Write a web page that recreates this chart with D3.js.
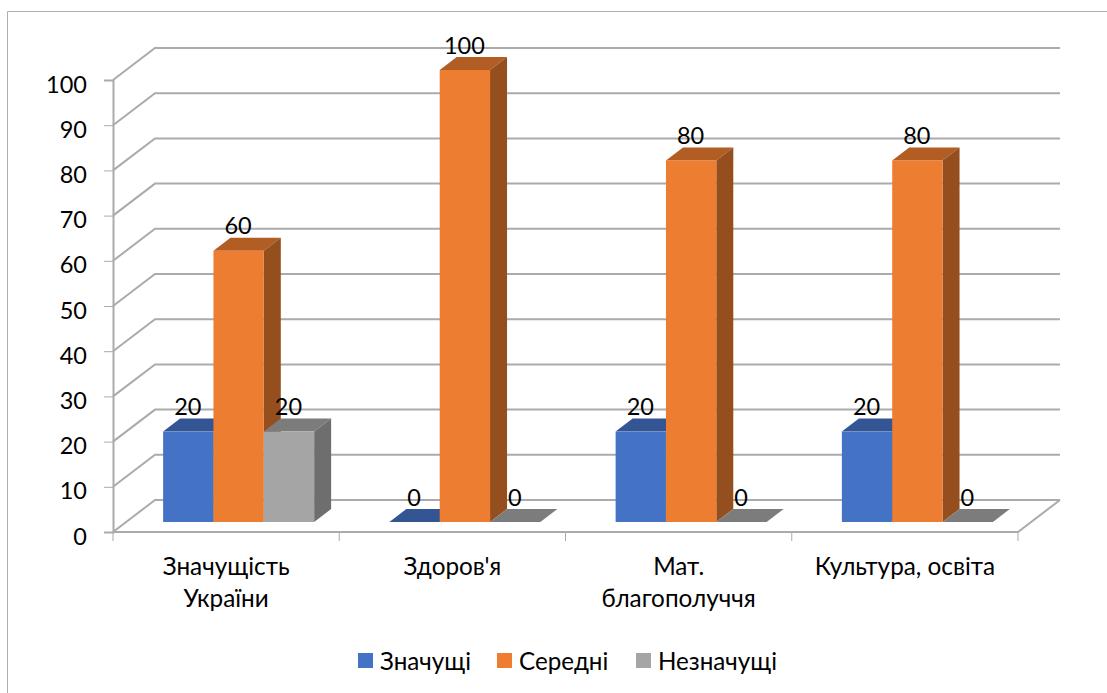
<!DOCTYPE html>
<html>
<head>
<meta charset="utf-8">
<script src="https://cdn.jsdelivr.net/npm/d3@7"></script>
<style>
  html, body { margin: 0; padding: 0; background: #fff; }
  text { font-family: Lato, "Open Sans", sans-serif; fill: #000; }
</style>
</head>
<body>
<div id="chart"></div>
<script>
const categories = [["Значущість", "України"], ["Здоров'я"], ["Мат.", "благополуччя"], ["Культура, освіта"]];
const seriesNames = ["Значущі", "Середні", "Незначущі"];
const significant = [20, 0, 20, 20];
const medium = [60, 100, 80, 80];
const insignificant = [20, 0, 0, 0];
const yTicks = [0, 10, 20, 30, 40, 50, 60, 70, 80, 90, 100];

const frontColors = ["#4472c4", "#ed7d31", "#a5a5a5"];
const topColors = ["#335593", "#b15d24", "#7c7c7c"];
const sideColors = ["#294477", "#954f1e", "#6e6e6e"];

const width = 1107, height = 693;
// oblique offsets: walls of the box and the bars themselves
const wallDx = 42, wallDy = -32, barDx = 17, barDy = -13;

const svg = d3.select("#chart").append("svg")
  .attr("width", width)
  .attr("height", height)
  .style("display", "block");

// chart frame
svg.append("path")
  .attr("d", "M7.5,693V11.5H1107")
  .attr("fill", "none")
  .attr("stroke", "#b0b0b0")
  .attr("stroke-width", 1);

const x = d3.scaleBand().domain(d3.range(categories.length)).range([113, 1018]);
const y = d3.scaleLinear().domain([0, 100]).range([532, 80]);
const inner = d3.scaleBand().domain(d3.range(seriesNames.length)).range([0, 151]);

const gridColor = "#ababab";

// gridlines on back wall and side wall
const grid = svg.append("g").attr("fill", "none").attr("stroke", gridColor).attr("stroke-width", 2);
yTicks.forEach(t => {
  grid.append("path").attr("d", d3.line()([
    [x.range()[0], y(t)],
    [x.range()[0] + wallDx, y(t) + wallDy],
    [x.range()[1] + wallDx, y(t) + wallDy]
  ]));
});
// floor
grid.append("path").attr("d", d3.line()([
  [x.range()[0], y(0)],
  [x.range()[1], y(0)],
  [x.range()[1] + wallDx, y(0) + wallDy]
]));

// y axis
const yAxis = d3.axisLeft(y).tickValues(yTicks).tickSize(9).tickPadding(17);
const gy = svg.append("g").attr("transform", `translate(${x.range()[0]},0)`).call(yAxis);
gy.select(".domain").attr("stroke", gridColor).attr("stroke-width", 2);
gy.selectAll(".tick line").attr("stroke", gridColor);
gy.selectAll("text")
  .attr("y", 4.5)
  .attr("font-size", 23.5)
  .style("font-family", "Lato, 'Open Sans', sans-serif")
  .attr("fill", "#000");

// x axis ticks, labels are drawn separately because they wrap
const xTicks = d3.range(categories.length + 1).map(i => i < categories.length ? x(i) : x.range()[1]);
svg.append("g").selectAll("line").data(xTicks).join("line")
  .attr("x1", d => d).attr("x2", d => d)
  .attr("y1", y(0)).attr("y2", y(0) + 9)
  .attr("stroke", gridColor);

const catLabels = svg.append("g").selectAll("text").data(categories).join("text")
  .attr("text-anchor", "middle")
  .attr("font-size", 24.3)
  .attr("transform", (d, i) => `translate(${x(i) + x.bandwidth() / 2},0)`);
catLabels.selectAll("tspan").data(d => d).join("tspan")
  .attr("x", 0)
  .attr("y", (d, i) => 575 + i * 32)
  .text(d => d);

// bars
const base = y(0) - 10;
const barY = v => y(v) - 10;
const barOffset = 12.5 + (x.bandwidth() - 151) / 2;
const rows = [significant, medium, insignificant];

categories.forEach((c, ci) => {
  // left to right, each bar covers the side of the one before it
  rows.forEach((row, si) => {
    const v = row[ci];
    const x0 = x(ci) + barOffset + inner(si);
    const x1 = x0 + inner.bandwidth();
    const top = barY(v);
    const g = svg.append("g");
    g.append("path") // top
      .attr("d", d3.line()([[x0, top], [x0 + barDx, top + barDy], [x1 + barDx, top + barDy], [x1, top]]) + "Z")
      .attr("fill", topColors[si]);
    if (v > 0) {
      g.append("path") // side
        .attr("d", d3.line()([[x1, top], [x1 + barDx, top + barDy], [x1 + barDx, base + barDy], [x1, base]]) + "Z")
        .attr("fill", sideColors[si]);
      g.append("rect") // front
        .attr("x", x0).attr("y", top)
        .attr("width", inner.bandwidth()).attr("height", base - top)
        .attr("fill", frontColors[si]);
    }
  });
});

// data labels
rows.forEach((row, si) => {
  svg.append("g").selectAll("text").data(row).join("text")
    .attr("text-anchor", "middle")
    .attr("font-size", 23.5)
    .attr("x", (d, i) => x(i) + barOffset + inner(si) + inner.bandwidth() / 2 - 0.5)
    .attr("y", d => barY(d) - 16.5)
    .text(d => d);
});

// legend
const legendX = [358, 497, 636];
const legend = svg.append("g").selectAll("g").data(seriesNames).join("g")
  .attr("transform", (d, i) => `translate(${legendX[i]},653)`);
legend.append("rect").attr("width", 15).attr("height", 15).attr("fill", (d, i) => frontColors[i]);
legend.append("text").attr("x", 22).attr("y", 17).attr("font-size", 24.2).text(d => d);
</script>
</body>
</html>
